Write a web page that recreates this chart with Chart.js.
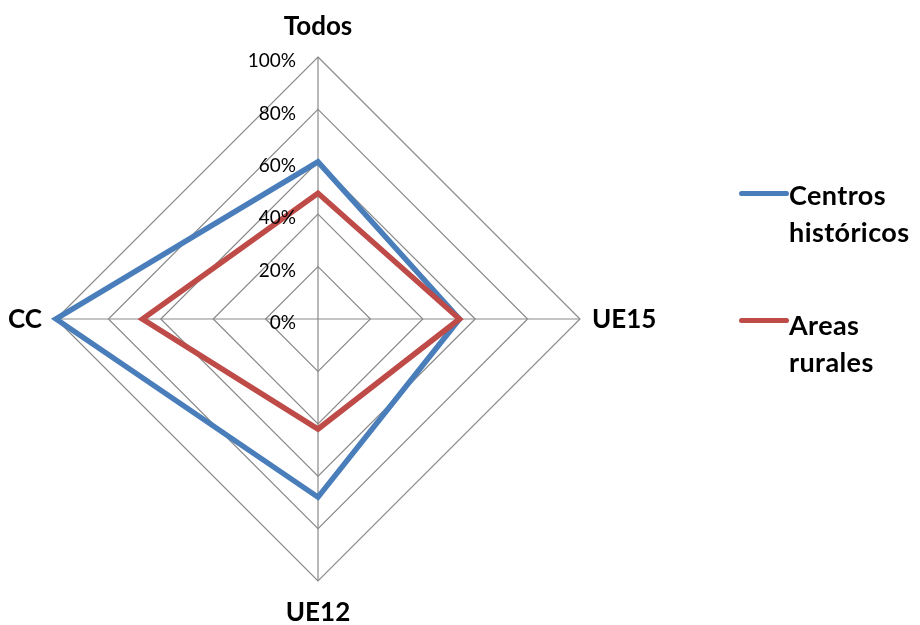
<!DOCTYPE html>
<html>
<head>
<meta charset="utf-8">
<script src="https://cdn.jsdelivr.net/npm/chart.js@4.4.0/dist/chart.umd.min.js"></script>
<style>
  html, body { margin: 0; padding: 0; background: #fff; }
  #wrap { position: relative; width: 920px; height: 625px; }
  #chart { position: absolute; left: 0; top: 0; }
  .legend { position: absolute; left: 739px; font-family: Lato, "Open Sans", sans-serif; font-weight: bold; font-size: 27px; letter-spacing: 0.4px; line-height: 37px; color: #000; }
  .legend .swatch { position: absolute; left: 0; width: 50px; height: 5px; border-radius: 3px; }
  .legend .txt { position: absolute; left: 50px; white-space: nowrap; }
</style>
</head>
<body>
<div id="wrap">
  <canvas id="chart" width="920" height="625"></canvas>
  <div class="legend" id="leg1" style="top:176px;">
    <div class="swatch" style="top:15px;background:#4a7ebb;"></div>
    <div class="txt">Centros<br>históricos</div>
  </div>
  <div class="legend" id="leg2" style="top:306px;">
    <div class="swatch" style="top:12px;background:#be4b48;"></div>
    <div class="txt">Areas<br>rurales</div>
  </div>
</div>
<script>
const categories = ['Todos', 'UE15', 'UE12', 'CC'];
const centrosHistoricos = [60, 54, 68, 100];
const areasRurales = [48, 54, 42, 67];
const tickValues = [0, 20, 40, 60, 80, 100];

const gridColor = '#898989';
const fontFamily = 'Lato, "Open Sans", sans-serif';

// axis tick labels + category labels, placed off the radial scale
const labelPlugin = {
  id: 'radarLabels',
  afterDatasetsDraw(chart) {
    const r = chart.scales.r;
    const ctx = chart.ctx;
    ctx.save();
    ctx.fillStyle = '#000';

    ctx.font = '19px ' + fontFamily;
    ctx.textAlign = 'right';
    ctx.textBaseline = 'middle';
    tickValues.forEach(v => {
      const d = r.getDistanceFromCenterForValue(v);
      ctx.fillText(v + '%', r.xCenter - 22, r.yCenter - d + 4);
    });

    ctx.font = 'bold 26px ' + fontFamily;
    const offsets = [31, 12, 31, 14];
    const aligns = ['center', 'left', 'center', 'right'];
    categories.forEach((c, i) => {
      const p = r.getPointPosition(i, r.drawingArea + offsets[i]);
      ctx.textAlign = aligns[i];
      ctx.fillText(c, p.x, p.y + 1);
    });
    ctx.restore();
  }
};

new Chart(document.getElementById('chart'), {
  type: 'radar',
  data: {
    labels: categories,
    datasets: [
      { label: 'Centros históricos', data: centrosHistoricos, borderColor: '#4a7ebb', borderWidth: 5.5, fill: false, pointRadius: 0, order: 1 },
      { label: 'Areas rurales', data: areasRurales, borderColor: '#be4b48', borderWidth: 5.5, fill: false, pointRadius: 0, order: 0 }
    ]
  },
  options: {
    responsive: false,
    animation: false,
    layout: { padding: { left: 56, right: 340, top: 57, bottom: 44 } },
    plugins: { legend: { display: false }, tooltip: { enabled: false } },
    elements: { line: { tension: 0, borderJoinStyle: 'miter' } },
    scales: {
      r: {
        min: 0,
        max: 100,
        ticks: { display: false, stepSize: 20 },
        pointLabels: { display: false },
        grid: { color: gridColor, lineWidth: 1.2 },
        angleLines: { color: gridColor, lineWidth: 1.2 }
      }
    }
  },
  plugins: [labelPlugin]
});
</script>
</body>
</html>
